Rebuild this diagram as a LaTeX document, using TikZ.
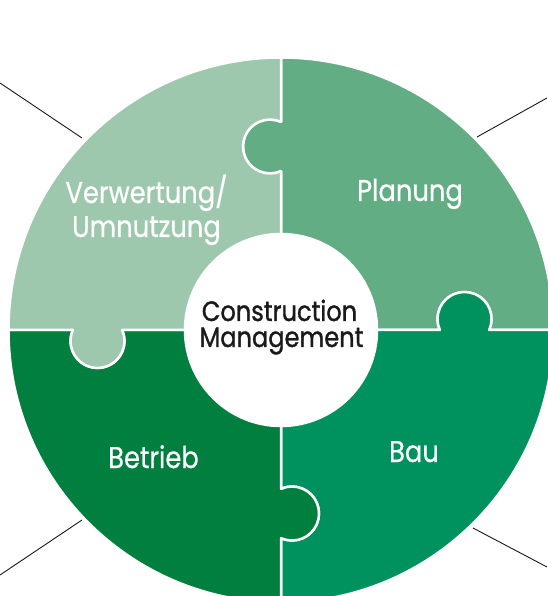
\documentclass[tikz,border=0pt]{standalone}
\usepackage{fontspec}
\setmainfont{Poppins}
\newfontfamily\labfont[FakeStretch=0.86,FakeBold=0.6]{Poppins}
\newfontfamily\cenfont[FakeStretch=0.86,FakeBold=1.2]{Poppins}
\definecolor{cNW}{HTML}{9EC8AD}
\definecolor{cNE}{HTML}{62AD84}
\definecolor{cSE}{HTML}{00925E}
\definecolor{cSW}{HTML}{007F3E}
\definecolor{cText}{HTML}{1A1A1A}
\def\piecepath{(96,0) -- ({183.5-24.66},0) arc[start angle=204.04, end angle=-24.04, radius=27] -- (272.5,0) arc[start angle=0, end angle=90, radius=272.5] -- (0,{183.5+24.66}) arc[start angle=65.96, end angle=294.04, radius=27] -- (0,96) arc[start angle=90, end angle=0, radius=96] -- cycle}
\tikzset{
  piece/.style={draw=white, line width=2.5pt, line join=round},
  lab/.style={text=white, font=\labfont\fontsize{30}{34}\selectfont, anchor=base, inner sep=0pt},
  centertext/.style={text=cText, font=\cenfont\fontsize{28}{30}\selectfont, anchor=base, inner sep=0pt, text height=19pt, text depth=5pt},
  leader/.style={draw=black!90, line width=0.9pt}
}
\begin{document}
\begin{tikzpicture}[x=1pt,y=1pt]
\useasboundingbox (-281,-266) rectangle (266,330);
% puzzle pieces
\begin{scope}[rotate=0]
  \filldraw[piece, fill=cNE] \piecepath;
\end{scope}
\begin{scope}[rotate=-90]
  \filldraw[piece, fill=cSE] \piecepath;
\end{scope}
\begin{scope}[rotate=-180]
  \filldraw[piece, fill=cSW] \piecepath;
\end{scope}
\begin{scope}[rotate=-270]
  \filldraw[piece, fill=cNW] \piecepath;
\end{scope}
% labels
\node[lab] (verw) at (-134.5,127) {Verwertung/};
\node[lab] (umn) at (-134.5,93) {Umnutzung};
\node[lab] (plan) at (129,129) {Planung};
\node[lab] (betr) at (-127.5,-138) {Betrieb};
\node[lab] (bau) at (133,-132) {Bau};
\node[centertext] (cm1) at (-1.5,9) {Construction};
\node[centertext] (cm2) at (0.5,-17) {Management};
% leader lines
\coordinate (nwA) at (-199,192); \coordinate (nwB) at (-281,247);
\coordinate (neA) at (196,193); \coordinate (neB) at (266,232);
\coordinate (swA) at (-199,-190); \coordinate (swB) at (-281,-245);
\coordinate (seA) at (192,-198); \coordinate (seB) at (266,-237);
\draw[leader] (nwA) -- (nwB);
\draw[leader] (neA) -- (neB);
\draw[leader] (swA) -- (swB);
\draw[leader] (seA) -- (seB);
\end{tikzpicture}
\end{document}
